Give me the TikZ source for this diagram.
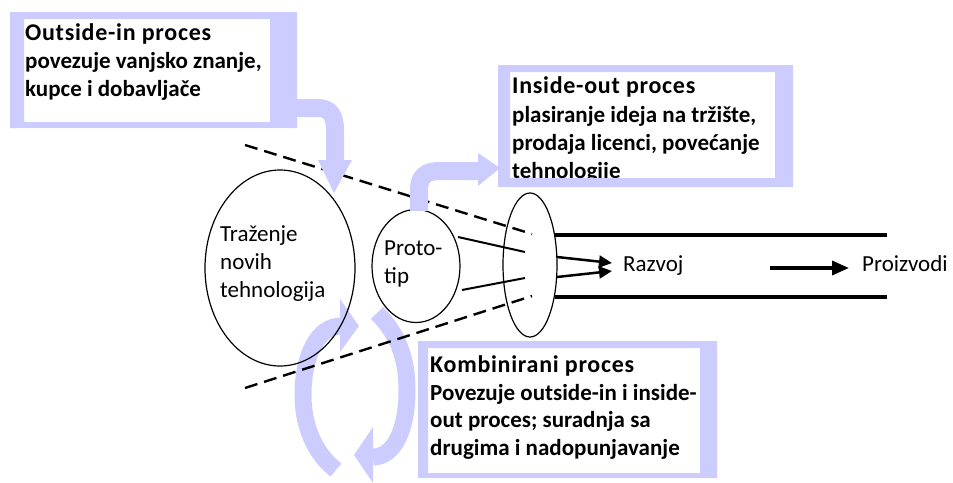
\documentclass[tikz,border=0pt]{standalone}
\usepackage{fontspec}
\setmainfont{Carlito}
\newfontfamily\headfont[LetterSpace=3]{Carlito}
\usetikzlibrary{arrows.meta,shapes.geometric}
\definecolor{lb}{RGB}{204,204,255}
\begin{document}
\begin{tikzpicture}[x=1pt,y=-1pt,
  txt/.style={anchor=base west,inner sep=0pt,font=\fontsize{23}{27}\selectfont},
  btxt/.style={txt,font=\fontsize{23}{27}\selectfont\bfseries},
  htxt/.style={txt,font=\headfont\fontsize{24}{27}\selectfont\bfseries},
  oval/.style={ellipse,draw=black,line width=1.2pt,inner sep=0pt},
  dashline/.style={draw=black,line width=2.4pt,dash pattern=on 13pt off 7pt},
  thinline/.style={draw=black,line width=2pt},
  thickline/.style={draw=black,line width=4pt},
  band/.style={draw=lb,line width=17pt},
  head/.style={fill=lb},
  frame/.style={fill=lb,even odd rule},
  blkarrow/.style={draw=black,line width=2.5pt,-{Triangle[width=12pt,length=13pt]}}
]
\useasboundingbox (0,0) rectangle (953,482);

% circular arrows (behind)
\coordinate (l0) at (336,470);
\coordinate (l1) at (303,395);
\coordinate (l2) at (341,326);
\draw[band] (l0) .. controls (314,453) and (303,425) .. (l1)
            .. controls (303,355) and (318,326) .. (l2);
\fill[head] (340,299) -- (359,326) -- (340,352) -- cycle;
\coordinate (r0) at (377,313);
\coordinate (r1) at (407,390);
\coordinate (r2) at (373,457);
\draw[band] (r0) .. controls (392,328) and (407,350) .. (r1)
            .. controls (407,430) and (394,457) .. (r2);
\fill[head] (373,427) -- (373,483) -- (354,455) -- cycle;

% dashed funnel
\coordinate (d1a) at (245,145);
\coordinate (d1b) at (532,234);
\coordinate (d2a) at (245,388);
\coordinate (d2b) at (532,296);
\draw[dashline] (d1a) -- (d1b);
\draw[dashline] (d2a) -- (d2b);

% ellipses
\node[oval,minimum width=150pt,minimum height=196pt] (search) at (280,268) {};
\node[oval,minimum width=88pt,minimum height=113pt] (proto) at (416,266) {};
\node[oval,minimum width=54pt,minimum height=144pt] (dev) at (530,265) {};

\node[txt] (s1) at (220,241) {Traženje};
\node[txt] (s2) at (220,269) {novih};
\node[txt] (s3) at (220,297) {tehnologija};
\node[txt] (p1) at (384,255) {Proto-};
\node[txt] (p2) at (384,283) {tip};

% lines from proto to dev
\coordinate (pa) at (458,237);
\coordinate (pb) at (462,290);
\coordinate (da) at (525,252);
\coordinate (db) at (525,278);
\draw[thinline] (pa) -- (da);
\draw[thinline] (pb) -- (db);

% pipe
\coordinate (t1) at (555,235);
\coordinate (t2) at (887,235);
\coordinate (b1) at (555,297);
\coordinate (b2) at (887,297);
\draw[thickline] (t1) -- (t2);
\draw[thickline] (b1) -- (b2);

\node[txt] (razvoj) at (623,271) {Razvoj};
\node[txt] (proizvodi) at (862,271) {Proizvodi};
\coordinate (ra1) at (557,257);
\coordinate (ra2) at (557,277);
\coordinate (re1) at (612,263);
\coordinate (re2) at (612,271);
\draw[blkarrow] (ra1) -- (re1);
\draw[blkarrow] (ra2) -- (re2);
\coordinate (pz) at (770,268);
\coordinate (pze) at (849,268);
\draw[draw=black,line width=3.5pt,-{Triangle[width=14pt,length=17pt]}] (pz) -- (pze);

% outside-in callout
\fill[white] (24,19) rectangle (270,122);
\node[htxt] (oi1) at (25,40) {Outside-in proces};
\node[btxt] (oi2) at (25,68) {povezuje vanjsko znanje,};
\node[btxt] (oi3) at (25,96) {kupce i dobavljače};
\fill[frame] (10,12) rectangle (297,128) (24,19) rectangle (270,122);
\coordinate (oa) at (296,108);
\draw[band,line width=18pt] (oa) -- (318,108) .. controls (330,108) and (335,116) .. (335,130) -- (335,161);
\fill[head] (318,160) -- (352,160) -- (334,193) -- cycle;

% inside-out callout
\fill[white] (510,72) rectangle (775,178);
\node[htxt] (io1) at (512,93) {Inside-out proces};
\node[btxt] (io2) at (512,122) {plasiranje ideja na tržište,};
\node[btxt] (io3) at (512,150) {prodaja licenci, povećanje};
\node[btxt] (io4) at (512,178) {tehnologije};
\fill[frame] (498,65) rectangle (793,187) (510,72) rectangle (775,178);
\draw[band,line width=18pt] (proto.north) ++(3,2) -- (419,190) .. controls (419,176) and (426,171) .. (440,171) -- (479,171);
\fill[head] (478,153) -- (478,186) -- (500,168) -- cycle;

% combined callout
\fill[white] (428,348) rectangle (700,473);
\node[htxt] (k1) at (430,372) {Kombinirani proces};
\node[btxt] (k2) at (430,400) {Povezuje outside-in i inside-};
\node[btxt] (k3) at (430,427) {out proces; suradnja sa};
\node[btxt] (k4) at (430,455) {drugima i nadopunjavanje};
\fill[frame] (418,341) rectangle (717,478) (428,348) rectangle (700,473);
\end{tikzpicture}
\end{document}
